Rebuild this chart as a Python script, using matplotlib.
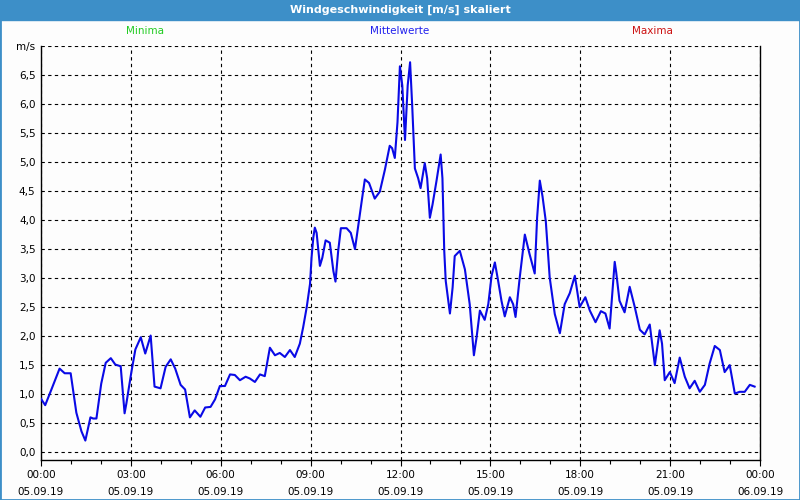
import numpy as np
import matplotlib.pyplot as plt
from matplotlib.patches import Rectangle
from matplotlib.ticker import MultipleLocator, FixedLocator

# wind speed (10 min means), time in hours after 05.09.19 00:00
hours = [0.00, 0.14, 0.34, 0.62, 0.79, 0.99, 1.10, 1.18, 1.35, 1.48, 1.65, 1.74, 1.85,
         2.01, 2.16, 2.33, 2.48, 2.66, 2.79, 2.85, 3.01, 3.15, 3.33, 3.48, 3.66, 3.79,
         3.99, 4.16, 4.33, 4.48, 4.66, 4.81, 4.97, 5.13, 5.32, 5.48, 5.66, 5.81, 5.97,
         6.14, 6.31, 6.47, 6.64, 6.83, 6.97, 7.14, 7.31, 7.47, 7.64, 7.81, 7.97, 8.14,
         8.31, 8.47, 8.64, 8.75, 8.87, 8.98, 9.03, 9.09, 9.14, 9.20, 9.31, 9.39, 9.50,
         9.64, 9.76, 9.83, 9.92, 10.01, 10.20, 10.34, 10.48, 10.61, 10.72, 10.81, 10.95,
         11.14, 11.31, 11.48, 11.64, 11.72, 11.81, 11.90, 11.98, 12.06, 12.15, 12.24,
         12.32, 12.39, 12.48, 12.59, 12.67, 12.81, 12.89, 12.98, 13.07, 13.20, 13.34,
         13.40, 13.46, 13.51, 13.65, 13.74, 13.81, 13.98, 14.15, 14.31, 14.45, 14.54,
         14.65, 14.81, 14.93, 15.04, 15.15, 15.26, 15.37, 15.48, 15.65, 15.76, 15.84,
         15.98, 16.15, 16.31, 16.48, 16.56, 16.65, 16.74, 16.85, 16.98, 17.15, 17.32,
         17.48, 17.65, 17.82, 17.98, 18.17, 18.32, 18.51, 18.69, 18.84, 18.98, 19.15,
         19.20, 19.31, 19.48, 19.65, 19.82, 19.99, 20.15, 20.32, 20.49, 20.65, 20.73,
         20.82, 20.99, 21.15, 21.32, 21.49, 21.65, 21.82, 21.99, 22.16, 22.32, 22.49,
         22.66, 22.82, 22.99, 23.16, 23.32, 23.49, 23.66, 23.82]
speed = [0.92, 0.81, 1.07, 1.44, 1.36, 1.36, 0.96, 0.68, 0.36, 0.20, 0.60, 0.58, 0.58,
         1.18, 1.54, 1.62, 1.51, 1.48, 0.67, 0.84, 1.36, 1.77, 1.98, 1.70, 2.01, 1.13,
         1.10, 1.47, 1.60, 1.44, 1.16, 1.08, 0.60, 0.72, 0.61, 0.77, 0.78, 0.91, 1.14,
         1.14, 1.34, 1.33, 1.24, 1.30, 1.27, 1.21, 1.34, 1.31, 1.80, 1.67, 1.71, 1.64,
         1.76, 1.64, 1.87, 2.15, 2.50, 2.90, 3.35, 3.70, 3.87, 3.78, 3.21, 3.35, 3.65,
         3.61, 3.12, 2.94, 3.47, 3.86, 3.86, 3.78, 3.50, 3.98, 4.38, 4.70, 4.64,
         4.37, 4.49, 4.87, 5.28, 5.24, 5.07, 5.69, 6.65, 6.32, 5.38, 6.32,
         6.72, 5.98, 4.89, 4.72, 4.55, 4.98, 4.72, 4.04, 4.27, 4.67, 5.13,
         4.72, 3.47, 2.95, 2.39, 2.84, 3.38, 3.47, 3.15, 2.55, 1.67, 1.98,
         2.44, 2.28, 2.55, 3.04, 3.27, 2.95, 2.61, 2.34, 2.67, 2.55, 2.33,
         3.01, 3.75, 3.41, 3.08, 4.04, 4.68, 4.41, 3.98, 3.01, 2.38, 2.05,
         2.55, 2.74, 3.04, 2.50, 2.67, 2.44, 2.24, 2.43, 2.39, 2.13, 3.28,
         3.10, 2.61, 2.41, 2.85, 2.50, 2.11, 2.03, 2.20, 1.50, 2.10, 1.87,
         1.24, 1.38, 1.19, 1.63, 1.30, 1.10, 1.23, 1.04, 1.16, 1.53, 1.83,
         1.76, 1.38, 1.50, 1.01, 1.04, 1.04, 1.16, 1.13]

x_ticks = [0, 3, 6, 9, 12, 15, 18, 21, 24]
x_labels = ['00:00\n05.09.19', '03:00\n05.09.19', '06:00\n05.09.19', '09:00\n05.09.19',
            '12:00\n05.09.19', '15:00\n05.09.19', '18:00\n05.09.19', '21:00\n05.09.19',
            '00:00\n06.09.19']
y_ticks = np.arange(0, 7.01, 0.5)
y_labels = [f'{v:.1f}'.replace('.', ',') for v in y_ticks[:-1]] + ['m/s']

plt.rcParams['font.family'] = ['DejaVu Sans']
fig = plt.figure(figsize=(8, 5), dpi=100)
fig.patch.set_facecolor('#fdfdfd')

# window frame + title bar
bar = '#3d8fc8'
fig.add_artist(Rectangle((0, 0.96), 1, 0.04, transform=fig.transFigure, color=bar, zorder=0))
fig.add_artist(Rectangle((0, 0), 1, 1, transform=fig.transFigure, fill=False,
                         edgecolor=bar, linewidth=2, zorder=0))
fig.text(0.5, 0.98, 'Windgeschwindigkeit [m/s] skaliert', color='white', fontsize=8,
         fontweight='bold', ha='center', va='center')
fig.text(145 / 800, 1 - 31 / 500, 'Minima', color='#22cc22', fontsize=7.5, ha='center', va='center')
fig.text(400 / 800, 1 - 31 / 500, 'Mittelwerte', color='#2020ee', fontsize=7.5, ha='center', va='center')
fig.text(652 / 800, 1 - 31 / 500, 'Maxima', color='#cc1111', fontsize=7.5, ha='center', va='center')

ax = fig.add_axes([41 / 800, 40 / 500, 719 / 800, 414 / 500])
ax.set_facecolor('#fdfdfd')
ax.plot(hours, speed, color='#0a0ae6', linewidth=1.5, zorder=3)

ax.set_xlim(0, 24)
ax.set_ylim(-0.135, 7.0)
ax.xaxis.set_major_locator(FixedLocator(x_ticks))
ax.xaxis.set_minor_locator(MultipleLocator(1))
ax.set_xticklabels(x_labels, fontsize=7.5, linespacing=1.9)
ax.set_yticks(y_ticks)
ax.set_yticklabels(y_labels, fontsize=7.5)
ax.tick_params(axis='x', which='major', length=4, width=0.8, pad=3)
ax.tick_params(axis='x', which='minor', length=3, width=0.8)
ax.tick_params(axis='y', length=0, pad=4)

ax.grid(True, which='major', color='black', linestyle=(0, (3, 3)), linewidth=0.8)
ax.spines['top'].set_visible(False)
for s in ['left', 'right', 'bottom']:
    ax.spines[s].set_linewidth(1.0)

plt.savefig('out.png', dpi=100, facecolor=fig.get_facecolor())
